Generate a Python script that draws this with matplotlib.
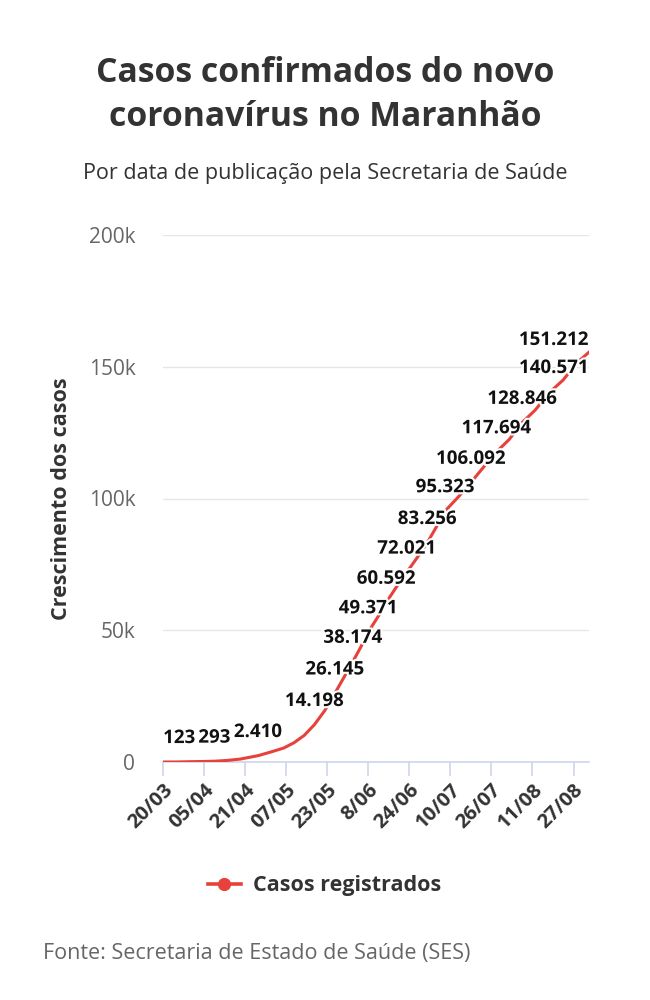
import pandas as pd
import matplotlib.pyplot as plt
import matplotlib.patheffects as pe
from matplotlib.lines import Line2D

plt.rcParams['font.family'] = ['Open Sans', 'DejaVu Sans']

# Casos acumulados
datas = ['2020-03-20', '2020-03-25', '2020-03-31', '2020-04-05', '2020-04-09',
         '2020-04-14', '2020-04-19', '2020-04-26', '2020-05-01', '2020-05-06',
         '2020-05-10', '2020-05-14', '2020-05-18', '2020-05-22', '2020-05-26',
         '2020-05-30', '2020-06-02', '2020-06-05', '2020-06-08', '2020-06-12',
         '2020-06-15', '2020-06-19', '2020-06-23', '2020-06-27', '2020-07-01',
         '2020-07-05', '2020-07-08', '2020-07-13', '2020-07-18', '2020-07-23',
         '2020-07-28', '2020-08-02', '2020-08-07', '2020-08-12', '2020-08-18',
         '2020-08-23', '2020-08-28', '2020-09-02']
casos = [2, 10, 123, 200, 293, 600, 1100, 2410, 3800, 5300,
         7300, 10100, 14198, 19500, 26145, 33000, 38174, 43500, 49371, 55500,
         60592, 66500, 72021, 77500, 83256, 90000, 95323, 100500, 106092, 112000,
         117694, 122500, 128846, 133500, 140571, 145000, 151212, 155500]

# pontos com rótulo
rotulos = [123, 293, 2410, 14198, 26145, 38174, 49371, 60592, 72021,
           83256, 95323, 106092, 117694, 128846, 140571, 151212]

ticks_x = ['2020-03-20', '2020-04-05', '2020-04-21', '2020-05-07', '2020-05-23',
           '2020-06-08', '2020-06-24', '2020-07-10', '2020-07-26', '2020-08-11',
           '2020-08-27']
ticks_x_txt = ['20/03', '05/04', '21/04', '07/05', '23/05', '8/06', '24/06',
               '10/07', '26/07', '11/08', '27/08']

df = pd.DataFrame({'data': pd.to_datetime(datas), 'casos': casos})

fig = plt.figure(figsize=(6.5, 10), dpi=100)
ax = fig.add_axes([0.251, 0.238, 0.655, 0.527])

vermelho = '#e8413c'
ax.plot(df['data'], df['casos'], color=vermelho, lw=2.2, zorder=2)

x0, x1 = df['data'].iloc[0], df['data'].iloc[-1]
ax.set_xlim(x0, x1)
ax.set_ylim(0, 200000)
ax.set_yticks([0, 50000, 100000, 150000, 200000])
ax.set_yticklabels(['0', '50k', '100k', '150k', '200k'])
ax.grid(axis='y', color='#e6e6e6', lw=1)
ax.set_axisbelow(True)
for s in ['top', 'right', 'left']:
    ax.spines[s].set_visible(False)
ax.spines['bottom'].set_color('#ccd6eb')
ax.spines['bottom'].set_linewidth(1.2)
ax.spines['bottom'].set_zorder(1)

ax.set_xticks(pd.to_datetime(ticks_x))
ax.set_xticklabels(ticks_x_txt, rotation=45, ha='right', rotation_mode='anchor',
                   fontsize=14.5, fontweight='bold', color='#333333')
ax.tick_params(axis='x', length=10, color='#ccd6eb', width=1.2, pad=3)
ax.tick_params(axis='y', length=0, labelsize=15, labelcolor='#666666', pad=20)

ax.set_ylabel('Crescimento dos casos', fontsize=15.5, fontweight='bold',
              color='#333333', labelpad=12)

halo = [pe.withStroke(linewidth=3, foreground='white')]
ultimo = len(rotulos) - 1
for i, v in enumerate(rotulos):
    k = casos.index(v)
    xp = df['data'].iloc[k]
    ha = 'center'
    if i == 0:
        ha, xp = 'left', x0
    if i >= ultimo - 1:
        ha, xp = 'right', x1
    txt = f'{v:,}'.replace(',', '.')
    ax.annotate(txt, (xp, v), xytext=(0, 17), textcoords='offset points',
                ha=ha, va='center', fontsize=13.5, fontweight='bold', color='#111111',
                path_effects=halo, zorder=5, annotation_clip=False)

fig.text(0.5, 0.905, 'Casos confirmados do novo\ncoronavírus no Maranhão', ha='center',
         va='center', fontsize=24.3, fontweight='bold', color='#333333', linespacing=1.38)
fig.text(0.5, 0.826, 'Por data de publicação pela Secretaria de Saúde', ha='center',
         va='center', fontsize=15.5, color='#333333')

h = Line2D([], [], color=vermelho, lw=2.6, marker='o', markersize=8.5)
fig.legend([h], ['Casos registrados'], loc='center', bbox_to_anchor=(0.5, 0.114),
           frameon=False, handlelength=1.5, handletextpad=0.6,
           prop={'weight': 'bold', 'size': 15.5}, labelcolor='#333333')

fig.text(0.066, 0.047, 'Fonte: Secretaria de Estado de Saúde (SES)', ha='left',
         va='center', fontsize=15.5, color='#666666')

plt.savefig('out.png', dpi=100)
